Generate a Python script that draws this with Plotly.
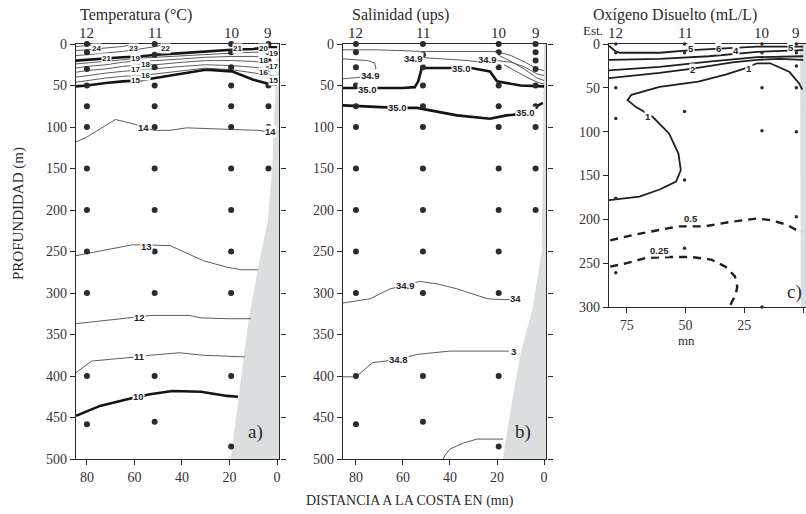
import plotly.graph_objects as go

# ----------------------------- DATA -----------------------------
station_names = ["12", "11", "10", "9"]
st_dist_ab = [80, 51.5, 19.3, 3.6]          # stations, panels a & b (mn)
st_dist_c = [79.6, 50.4, 17.5, 2.9]         # stations, panel c (mn)

# sampling depths (m) per station
samp_a = {"12": [0, 10, 30, 50, 75, 100, 150, 200, 250, 300, 400, 458],
          "11": [0, 13, 28, 50, 75, 100, 150, 200, 250, 300, 400, 455],
          "10": [0, 10, 28, 50, 75, 100, 150, 200, 250, 300, 400, 485],
          "9":  [0, 10, 20, 30, 50, 75, 100, 150]}
samp_b = {"12": [0, 10, 28, 50, 75, 100, 150, 200, 250, 300, 400, 458],
          "11": [0, 13, 28, 50, 75, 100, 150, 200, 250, 300, 400, 455],
          "10": [0, 10, 28, 50, 75, 100, 150, 200, 250, 300, 400, 485],
          "9":  [0, 10, 20, 30, 50, 75, 100, 150, 200]}
samp_c = {"12": [0, 10, 50, 85, 176, 261],
          "11": [0, 10, 77, 155, 233],
          "10": [0, 10, 50, 99, 300],
          "9":  [0, 10, 25, 50, 100, 197]}

# seabed (distance mn, depth m)
bathy_a_dist = [0, 2, 4, 7, 12, 16, 19.5]
bathy_a_depth = [0, 150, 215, 255, 333, 420, 500]
bathy_b_dist = [0, 1, 5, 10, 15, 17.5]
bathy_b_depth = [0, 250, 320, 373, 454, 500]
bathy_c_dist = [1.3, 1.0]
bathy_c_depth = [0, 300]

# ---- Temperature isotherms (°C) ----
t_grid = [84.6, 80, 72, 65, 57.7, 51, 40, 30, 19, 10, 3.8, 0]
temp_24 = ([84.6, 80, 76], [3, 2, 0])
temp_23 = ([84.6, 80, 72, 65, 60], [8, 7, 5, 3, 0])
temp_22 = ([84.6, 80, 72, 65, 57.7, 51, 47], [14, 13, 11, 9, 6, 3, 0])
temp_21 = [20, 19, 17, 16, 15, 13, 11, 9, 7, 6, 4, 4]
temp_20 = [24, 23, 21, 19, 17, 16, 14, 12, 11, 10, 9, 9]
temp_19 = [29, 27, 25, 22, 20, 20, 18, 16, 15, 15, 16, 16]
temp_18 = [34, 32, 30, 27, 25, 25, 22, 20, 20, 21, 23, 23]
temp_17 = [40, 38, 35, 33, 31, 30, 27, 25, 26, 28, 30, 31]
temp_16 = [46, 44, 41, 39, 38, 36, 32, 29, 31, 35, 38, 39]
temp_15 = [51, 50, 47, 45, 44, 41, 36, 31, 33, 43, 48, 49]
temp_14 = ([84.6, 80, 68, 62, 56, 52, 45, 38, 19, 8, 3, 0],
           [118, 112, 91, 95, 100, 104, 104, 101, 103, 104, 106, 106])
temp_13 = ([84.6, 75, 61, 55, 45, 38, 31, 21, 15, 8],
           [255, 250, 242, 242, 243, 252, 261, 269, 272, 272])
temp_12 = ([84.6, 75, 62, 57, 53, 37, 32, 20, 11],
           [337, 334, 330, 329, 327, 327, 330, 331, 331])
temp_11 = ([84.6, 78, 63, 58, 53.5, 41, 31, 20, 13.5],
           [396, 382, 378, 377, 375, 372, 375, 376, 377])
temp_10 = ([84.6, 74.5, 63, 58.5, 53.5, 44, 32, 21, 16.4],
           [448, 436, 428, 425, 422, 418, 419, 424, 425])

# ---- Salinity isohalines (ups) ----
sal_top = ([85.5, 72, 60, 52, 40, 28, 20, 14, 8, 3, 0],
           [7, 7, 8, 9, 9, 9, 9, 14, 22, 30, 32])
sal_tongue = ([85.5, 80, 75, 72, 71.5, 73, 78, 85.5],
              [18, 19, 20, 23, 29, 36, 40, 42])
sal_349a = ([54, 48, 40, 32, 27, 20, 14, 8, 3, 0],
            [16, 17, 18, 20, 22, 20, 22, 28, 36, 38])
sal_s4 = ([19, 14, 8, 3, 0], [14, 21, 31, 41, 44])
sal_s5 = ([17, 12, 6, 2, 0], [25, 33, 42, 47, 48])
sal_350a = ([85.5, 80, 60, 55, 53.5, 52, 45, 31, 23, 20, 10, 0],
            [53, 53, 53, 52, 45, 29, 29, 29, 33, 45, 50, 51])
sal_350b = ([85.5, 73, 62.5, 54, 37, 23, 16, 9, 0.5],
            [74, 76, 77, 77, 86, 90, 86, 84, 71])
sal_349b = ([85.5, 74, 65.5, 59, 53, 45.5, 37, 24, 17.4, 14],
            [312, 307, 295, 291, 286, 289, 295, 307, 308, 308])
sal_348 = ([85.5, 80, 73, 62, 54, 48, 40, 17.4, 15],
           [401, 401, 384, 380, 374, 372, 370, 370, 370])
sal_bot = ([43, 42, 40, 37, 34.5, 28.5, 17.4],
           [500, 495, 488, 484, 481, 476, 476])

# ---- Dissolved oxygen (mL/L) ----
ox_5 = ([82.5, 80, 77.9, 61, 47.5, 35, 19.6, 10, 0],
        [2, 8, 10, 10, 7, 5, 3, 3, 3])
ox_4 = ([82.5, 61, 40, 19.6, 0], [18, 17, 14, 9, 7])
ox_3 = ([82.5, 61, 40, 19.6, 0], [30, 26, 20, 15, 14])
ox_2 = ([82.5, 70, 61, 47, 40, 30, 19.6, 10, 0],
        [39, 36, 33, 28, 25, 21, 18, 17, 18])
ox_1 = ([82.5, 69.6, 61, 54, 52, 53, 57, 64, 71, 74.6, 73, 61, 44.6, 33, 25,
         19.6, 14, 5.8, 1.7, 0.4],
        [178, 174, 166, 157, 144, 125, 102, 83, 72, 64, 58, 49, 43, 35, 28,
         22, 22, 32, 45, 52])
ox_05 = ([82, 72.5, 61, 53, 41.7, 31, 19.6, 14, 7, 3, 0.5],
         [224, 218, 212, 208, 208, 203, 199, 201, 206, 212, 214])
ox_025 = ([82, 75, 66.7, 57, 47.5, 39, 33, 29, 28, 28.7, 31],
          [254, 250, 244, 243, 243, 246, 254, 265, 277, 286, 298])

# contour labels: (text, distance, depth)
labels_a = [("24", 75.8, 5), ("23", 60.6, 5), ("22", 47, 5), ("21", 16.5, 5),
            ("21", 71.6, 17),
            ("19", 59.5, 18), ("18", 55.5, 24.5), ("17", 59.5, 31),
            ("16", 55.5, 37.5), ("15", 59.5, 44),
            ("20", 5.6, 5), ("19", 1.6, 12), ("18", 5.6, 19.5),
            ("17", 1.6, 27), ("16", 5.6, 34.5), ("15", 1.6, 44),
            ("14", 56, 100), ("14", 2.8, 106), ("13", 55, 244),
            ("12", 57.7, 330), ("11", 57.7, 377), ("10", 58.5, 425)]
labels_b = [("34.9", 74, 38), ("35.0", 75, 55), ("34.9", 55.7, 17),
            ("34.9", 24, 19), ("35.0", 35, 30), ("35.0", 62.5, 77),
            ("35.0", 8, 83), ("34.9", 59, 291), ("34", 12, 307),
            ("34.8", 62, 380), ("3", 13, 370)]
labels_c = [("5", 47.5, 5), ("6", 35.8, 5), ("4", 28.6, 7), ("5", 5, 4),
            ("2", 47, 29), ("1", 23, 28), ("1", 66, 83),
            ("0.5", 47.6, 199), ("0.25", 61, 235)]

panel_titles = ["Temperatura (°C)", "Salinidad (ups)", "Oxígeno Disuelto (mL/L)"]
depth_ticks_ab = [0, 50, 100, 150, 200, 250, 300, 350, 400, 450, 500]
depth_ticks_c = [0, 50, 100, 150, 200, 250, 300]
dist_ticks_ab = [80, 60, 40, 20, 0]
dist_ticks_c = [75, 50, 25, 0]

# ----------------------------- FIGURE -----------------------------
W, H = 806, 514
SERIF = "Liberation Serif"
THIN = dict(color="#5c5c5c", width=1)
THICK = dict(color="#141414", width=2.6)
SHADE = "#dadede"
AX = "#2a2a2a"

fig = go.Figure()


def px(x):
    return x / W


def py(y):
    return 1 - y / H


def add_line(xs, ys, ax, style):
    fig.add_trace(go.Scatter(x=xs, y=ys, mode="lines", line=style,
                             xaxis="x" + ax, yaxis="y" + ax,
                             hoverinfo="skip", showlegend=False))


def add_shade(ds, zs, ax):
    xs = list(ds) + [-5, -5]
    ys = list(zs) + [zs[-1], zs[0]]
    fig.add_trace(go.Scatter(x=xs, y=ys, mode="lines", fill="toself",
                             fillcolor=SHADE, line=dict(width=0, color=SHADE),
                             xaxis="x" + ax, yaxis="y" + ax,
                             hoverinfo="skip", showlegend=False))


def add_dots(dists, samp, ax, size):
    xs, ys = [], []
    for name, d in zip(station_names, dists):
        for z in samp[name]:
            xs.append(d)
            ys.append(z)
    fig.add_trace(go.Scatter(x=xs, y=ys, mode="markers",
                             marker=dict(size=size, color="#2b2b2b"),
                             xaxis="x" + ax, yaxis="y" + ax, cliponaxis=False,
                             hoverinfo="skip", showlegend=False))


# panel a (axis "")
add_shade(bathy_a_dist, bathy_a_depth, "")
for line in (temp_24, temp_23, temp_22):
    add_line(line[0], line[1], "", THIN)
for z, st in ((temp_21, THICK), (temp_20, THIN), (temp_19, THIN),
              (temp_18, THIN), (temp_17, THIN), (temp_16, THIN),
              (temp_15, THICK)):
    add_line(t_grid, z, "", st)
for line in (temp_14, temp_13, temp_12, temp_11):
    add_line(line[0], line[1], "", THIN)
add_line(temp_10[0], temp_10[1], "", THICK)
add_dots(st_dist_ab, samp_a, "", 6)

# panel b (axis "2")
add_shade(bathy_b_dist, bathy_b_depth, "2")
for line in (sal_top, sal_tongue, sal_349a, sal_s4, sal_s5, sal_349b, sal_348,
             sal_bot):
    add_line(line[0], line[1], "2", THIN)
for line in (sal_350a, sal_350b):
    add_line(line[0], line[1], "2", THICK)
add_dots(st_dist_ab, samp_b, "2", 6)

# panel c (axis "3")
add_shade(bathy_c_dist, bathy_c_depth, "3")
OXL = dict(color="#1e1e1e", width=1.8)
for line in (ox_5, ox_4, ox_3, ox_2, ox_1):
    add_line(line[0], line[1], "3", OXL)
DASH = dict(color="#1e1e1e", width=2.4, dash="8px,6px")
for line in (ox_05, ox_025):
    add_line(line[0], line[1], "3", DASH)
add_dots(st_dist_c, samp_c, "3", 3.5)

# ---------------- axes ----------------
ab_y = [py(459), py(44)]
c_y = [py(307), py(44)]
common = dict(showgrid=False, zeroline=False, linecolor=AX, linewidth=1.2,
              ticks="outside", ticklen=5, tickcolor=AX, automargin=False,
              tickfont=dict(family=SERIF, size=14, color="#333"))
fig.update_layout(
    template="none",
    xaxis=dict(domain=[px(76), px(279.4)], range=[84.6, -1], anchor="y",
               tickvals=dist_ticks_ab, mirror=True, **common),
    yaxis=dict(domain=ab_y, range=[500, 0], anchor="x",
               tickvals=depth_ticks_ab, mirror="ticks", **common),
    xaxis2=dict(domain=[px(343), px(546.4)], range=[85.5, -1], anchor="y2",
                tickvals=dist_ticks_ab, mirror=True, **common),
    yaxis2=dict(domain=ab_y, range=[500, 0], anchor="x2",
                tickvals=depth_ticks_ab, mirror="ticks", **common),
    xaxis3=dict(domain=[px(609), 1.0], range=[82.5, -1.2], anchor="y3",
                tickvals=dist_ticks_c, mirror=True, **common),
    yaxis3=dict(domain=c_y, range=[300, 0], anchor="x3",
                tickvals=depth_ticks_c, **common),
    width=W, height=H, margin=dict(l=0, r=0, t=0, b=0, pad=0,
                                   autoexpand=False),
    paper_bgcolor="white", plot_bgcolor="white",
)

ann = []


def text(t, x, y, size=13, xanchor="center", **kw):
    d = dict(text=t, x=x, y=y, xref="paper", yref="paper", showarrow=False,
             xanchor=xanchor, yanchor="middle",
             font=dict(family=SERIF, size=size, color="#2a2a2a"))
    d.update(kw)
    ann.append(d)


text(panel_titles[0], px(136), py(15), 16)
text(panel_titles[1], px(400), py(15), 16)
text(panel_titles[2], px(675), py(15), 16)
for axn, dists in (("x", st_dist_ab), ("x2", st_dist_ab), ("x3", st_dist_c)):
    for name, d in zip(station_names, dists):
        ann.append(dict(text=name, x=d, y=py(33), xref=axn, yref="paper",
                        showarrow=False, xanchor="center", yanchor="middle",
                        font=dict(family=SERIF, size=15, color="#2a2a2a")))
text("Est.", px(605), py(30), 13, xanchor="right")
text("a)", px(255), py(432), 19)
text("b)", px(523), py(432), 19)
text("c)", px(794), py(292), 19)
text("PROFUNDIDAD (m)", px(18), py(214), 15, textangle=-90)
text("DISTANCIA A LA COSTA EN (mn)", px(410), py(501), 14)
text("mn", px(686), py(340), 13)

for labs, axn in ((labels_a, ""), (labels_b, "2"), (labels_c, "3")):
    for t, d, z in labs:
        small = axn == "" and z < 60
        ann.append(dict(text="<b>" + t + "</b>", x=d, y=z, xref="x" + axn,
                        yref="y" + axn, showarrow=False, bgcolor="white",
                        borderpad=0, xanchor="center", yanchor="middle",
                        font=dict(family="Liberation Sans",
                                  size=8 if small else 9.5, color="#222")))

fig.update_layout(annotations=ann)
fig.write_html("out.html")
